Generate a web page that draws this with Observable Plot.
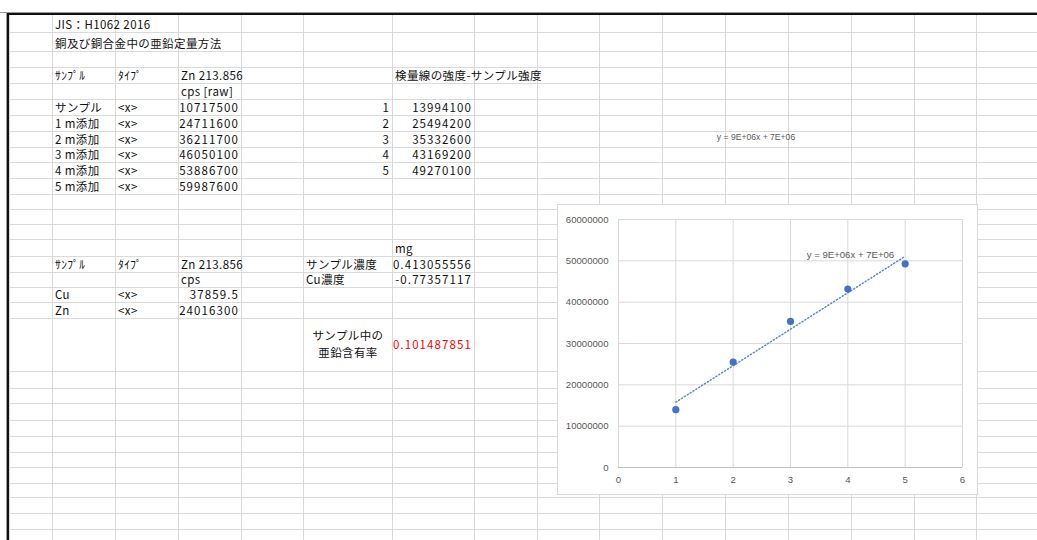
<!DOCTYPE html>
<html>
<head>
<meta charset="utf-8">
<script src="https://cdn.jsdelivr.net/npm/d3@7"></script>
<script src="https://cdn.jsdelivr.net/npm/@observablehq/plot@0.6"></script>
<style>
  html, body { margin: 0; padding: 0; background: #fff; }
  #sheet { position: relative; width: 1037px; height: 540px; overflow: hidden; background: #fff;
           font-family: "Noto Sans CJK JP", sans-serif; font-size: 11.5px; color: #111; }
  .vl { position: absolute; width: 1px; background: #d9d9d9; }
  .hl { position: absolute; height: 1px; background: #dadada; }
  .cell { position: absolute; display: flex; align-items: flex-end; white-space: nowrap;
          box-sizing: border-box; padding: 0 2px 1px 3px; line-height: 14px; letter-spacing: 0.4px; }
  .num { letter-spacing: 1.1px; }
  #chart { position: absolute; left: 557px; top: 204px; width: 419px; height: 289px;
           border: 1px solid #d9d9d9; background: #fff; }
  #chart svg { display: block; }
</style>
</head>
<body>
<div id="sheet"></div>
<script>
// ---------- data ----------
const standardLabels = ["サンプル", "1 m添加", "2 m添加", "3 m添加", "4 m添加", "5 m添加"];
const rawCps = ["10717500", "24711600", "36211700", "46050100", "53886700", "59987600"];
const addedAmounts = [1, 2, 3, 4, 5];
const netIntensity = [13994100, 25494200, 35332600, 43169200, 49270100];
const elementLabels = ["Cu", "Zn"];
const elementCps = ["37859.5", "24016300"];
const resultLabels = ["サンプル濃度", "Cu濃度"];
const resultValues = ["0.413055556", "-0.77357117"];
const zincContent = "0.101487851";
const xTicks = [0, 1, 2, 3, 4, 5, 6];
const yTicks = [0, 10000000, 20000000, 30000000, 40000000, 50000000, 60000000];
const trendLabel = "y = 9E+06x + 7E+06";

// ---------- sheet layout ----------
const colEdges = [9, 52, 115, 178, 241, 303, 392, 474, 537, 599, 662, 725, 788, 851, 914, 976, 1038];
const rowEdges = [14, 32, 51, 67, 83, 99, 115, 131, 147, 162, 178, 194, 209, 224, 239, 256, 272, 287, 302, 318, 371,
                  388, 403, 420, 436, 452, 467, 483, 497, 513, 529, 545];
const sheet = document.getElementById("sheet");

function el(cls, styles, text) {
  const d = document.createElement("div");
  d.className = cls;
  Object.assign(d.style, styles);
  if (text != null) d.textContent = text;
  sheet.appendChild(d);
  return d;
}
colEdges.forEach(x => el("vl", {left: x + "px", top: "14px", height: "530px"}));
rowEdges.forEach(y => el("hl", {left: "9px", top: y + "px", width: "1030px"}));
// frame border
el("", {position: "absolute", left: "0px", top: "12px", width: "1037px", height: "1px", background: "#9a9a9a"});
el("", {position: "absolute", left: "7px", top: "13px", width: "1030px", height: "2px", background: "#111"});
el("", {position: "absolute", left: "6px", top: "13px", width: "1px", height: "530px", background: "#9a9a9a"});
el("", {position: "absolute", left: "7px", top: "13px", width: "2px", height: "530px", background: "#111"});

function cell(r, c, text, opts = {}) {
  const span = opts.span || 1;
  const rspan = opts.rspan || 1;
  const d = el("cell" + (opts.num ? " num" : ""), {
    left: colEdges[c] + "px", top: rowEdges[r] + "px",
    width: (colEdges[c + span] - colEdges[c]) + "px",
    height: (rowEdges[r + rspan] - rowEdges[r]) + "px",
    justifyContent: opts.align === "right" ? "flex-end" : (opts.align === "center" ? "center" : "flex-start"),
    alignItems: opts.valign || "flex-end",
    color: opts.color || "#111"
  });
  if (opts.html) d.innerHTML = text; else d.textContent = text;
  return d;
}

cell(0, 1, "JIS：H1062 2016");
cell(1, 1, "銅及び銅合金中の亜鉛定量方法");
cell(3, 1, "ｻﾝﾌﾟﾙ");
cell(3, 2, "ﾀｲﾌﾟ");
cell(3, 3, "Zn 213.856");
cell(3, 6, "検量線の強度-サンプル強度");
cell(4, 3, "cps [raw]");
standardLabels.forEach((t, i) => {
  cell(5 + i, 1, t);
  cell(5 + i, 2, "<x>");
  cell(5 + i, 3, rawCps[i], {align: "right", num: true});
});
addedAmounts.forEach((a, i) => {
  cell(5 + i, 5, String(a), {align: "right", num: true});
  cell(5 + i, 6, String(netIntensity[i]), {align: "right", num: true});
});
cell(14, 6, "mg");
cell(15, 1, "ｻﾝﾌﾟﾙ");
cell(15, 2, "ﾀｲﾌﾟ");
cell(15, 3, "Zn 213.856");
cell(16, 3, "cps");
resultLabels.forEach((t, i) => {
  cell(15 + i, 5, t);
  cell(15 + i, 6, resultValues[i], {align: "right", num: true});
});
elementLabels.forEach((t, i) => {
  cell(17 + i, 1, t);
  cell(17 + i, 2, "<x>");
  cell(17 + i, 3, elementCps[i], {align: "right", num: true});
});
const big = cell(19, 5, "サンプル中の<br>亜鉛含有率", {align: "center", valign: "center", html: true});
big.style.textAlign = "center"; big.style.lineHeight = "17px"; big.style.whiteSpace = "normal";
cell(19, 6, zincContent, {align: "right", valign: "center", num: true, color: "#ff0000"});

// stray trendline label sitting on the sheet
el("", {position: "absolute", left: "700px", top: "130px", width: "112px", textAlign: "center",
        fontFamily: "'Liberation Sans', sans-serif", fontSize: "8.6px", color: "#595959", lineHeight: "14px"}, trendLabel);

// ---------- chart ----------
const chartDiv = el("", {}, null);
chartDiv.id = "chart";
const data = addedAmounts.map((x, i) => ({x, y: netIntensity[i]}));
const mx = d3.mean(data, d => d.x), my = d3.mean(data, d => d.y);
const slope = d3.sum(data, d => (d.x - mx) * (d.y - my)) / d3.sum(data, d => (d.x - mx) ** 2);
const intercept = my - slope * mx;
const lastX = d3.max(addedAmounts);
const blue = "#4472c4";

const chart = Plot.plot({
  width: 419, height: 289,
  marginLeft: 60, marginRight: 15, marginTop: 14, marginBottom: 27,
  style: {fontFamily: "'Liberation Sans', sans-serif", fontSize: "9.6px", color: "#595959", background: "transparent"},
  x: {domain: [0, 6], ticks: xTicks, tickSize: 0, tickPadding: 9, tickFormat: d => String(d), label: null},
  y: {domain: [0, 60000000], ticks: yTicks, tickSize: 0, tickPadding: 10, tickFormat: d => String(d), label: null},
  marks: [
    Plot.ruleX(xTicks, {stroke: "#d9d9d9", strokeWidth: 1}),
    Plot.ruleY(yTicks, {stroke: "#d9d9d9", strokeWidth: 1}),
    Plot.ruleY([0], {stroke: "#bfbfbf", strokeWidth: 1}),
    Plot.linearRegressionY(data, {x: "x", y: "y", ci: 0, stroke: "#5b8ad0", strokeWidth: 1.5, strokeDasharray: "1.1,2.3"}),
    Plot.dot(data, {x: "x", y: "y", r: 3.6, fill: blue, stroke: "none"}),
    Plot.text([{x: lastX, y: slope * lastX + intercept}], {
      x: "x", y: "y", text: () => trendLabel, textAnchor: "end", dx: -11, dy: -1,
      fill: "#595959", fontSize: 9.6
    })
  ]
});
chartDiv.appendChild(chart);
</script>
</body>
</html>
